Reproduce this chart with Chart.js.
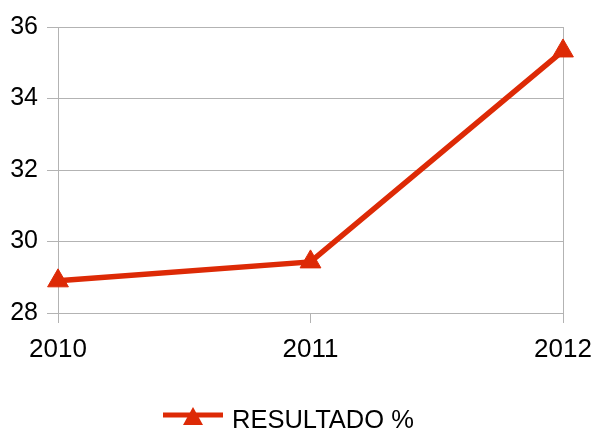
<!DOCTYPE html>
<html>
<head>
<meta charset="utf-8">
<script src="https://cdn.jsdelivr.net/npm/chart.js@4/dist/chart.umd.min.js"></script>
<style>
  html, body { margin: 0; padding: 0; background: #ffffff; }
  #wrap { width: 594px; height: 429px; position: relative; }
</style>
</head>
<body>
<div id="wrap"><canvas id="c" width="594" height="429"></canvas></div>
<script>
const categories = ['2010', '2011', '2012'];
const seriesName = 'RESULTADO %';
const seriesValues = [28.9, 29.43, 35.33];
const yTicks = [28, 30, 32, 34, 36];

const RED = '#dd2a06';
const GRID = '#b3b3b3';
const FONT = "'Liberation Sans', Arial, sans-serif";

const legendPlugin = {
  id: 'customLegend',
  afterDraw(chart) {
    const ctx = chart.ctx;
    const ds = chart.data.datasets[0];
    const cy = 415;
    const x0 = 163, x1 = 223;
    ctx.save();
    ctx.strokeStyle = ds.borderColor;
    ctx.lineWidth = 5;
    ctx.beginPath();
    ctx.moveTo(x0, cy);
    ctx.lineTo(x1, cy);
    ctx.stroke();
    const cx = (x0 + x1) / 2;
    ctx.fillStyle = ds.pointBackgroundColor;
    ctx.beginPath();
    ctx.moveTo(cx, cy - 8);
    ctx.lineTo(cx + 10, cy + 10);
    ctx.lineTo(cx - 10, cy + 10);
    ctx.closePath();
    ctx.fill();
    ctx.fillStyle = '#000000';
    ctx.font = '25.5px ' + FONT;
    ctx.textBaseline = 'middle';
    ctx.textAlign = 'left';
    ctx.fillText(ds.label, 232, cy + 6);
    ctx.restore();
  }
};

new Chart(document.getElementById('c'), {
  type: 'line',
  data: {
    labels: categories,
    datasets: [{
      label: seriesName,
      data: seriesValues,
      borderColor: RED,
      backgroundColor: RED,
      pointBackgroundColor: RED,
      pointBorderColor: RED,
      borderWidth: 5.5,
      pointStyle: 'triangle',
      pointRadius: 12,
      pointBorderWidth: 1,
      tension: 0,
      fill: false
    }]
  },
  options: {
    responsive: false,
    animation: false,
    devicePixelRatio: 1,
    layout: { padding: { top: 27, right: 31, bottom: 0, left: 0 } },
    plugins: {
      legend: { display: false },
      tooltip: { enabled: false }
    },
    scales: {
      x: {
        type: 'category',
        offset: false,
        afterFit(scale) { scale.height = 116; scale.paddingLeft = 0; scale.paddingRight = 0; },
        grid: {
          color: (c) => (c.index === categories.length - 1 ? GRID : 'rgba(0,0,0,0)'),
          lineWidth: 1, offset: false, drawTicks: true, tickLength: 10, tickColor: GRID
        },
        border: { color: GRID, width: 1 },
        ticks: { color: '#000000', font: { family: FONT, size: 26 }, padding: 11, maxRotation: 0 }
      },
      y: {
        min: 28,
        max: 36,
        afterFit(scale) { scale.width = 58; scale.paddingTop = 0; scale.paddingBottom = 0; },
        afterBuildTicks(scale) { scale.ticks = yTicks.map(v => ({ value: v })); },
        grid: { color: GRID, lineWidth: 1, drawTicks: true, tickLength: 11, tickColor: GRID },
        border: { color: GRID, width: 1 },
        ticks: { color: '#000000', font: { family: FONT, size: 25 }, padding: 9 }
      }
    }
  },
  plugins: [legendPlugin]
});
</script>
</body>
</html>
